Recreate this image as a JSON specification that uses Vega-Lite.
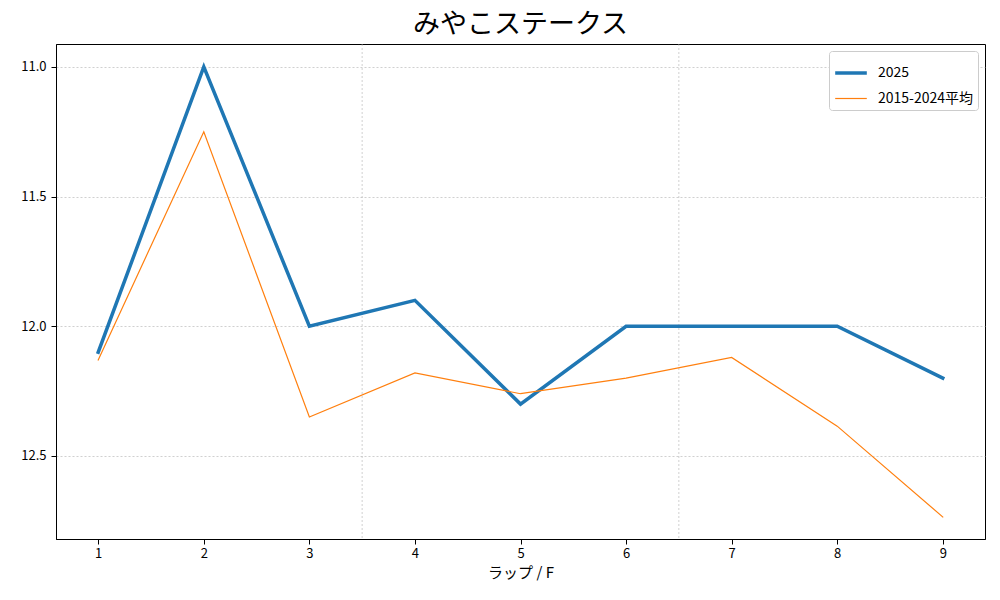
{
  "$schema": "https://vega.github.io/schema/vega-lite/v6.json",
  "autosize": "none",
  "width": 929,
  "height": 495,
  "padding": {"left": 56, "top": 44, "right": 15, "bottom": 61},
  "background": "white",
  "config": {
    "font": "Noto Sans CJK JP",
    "view": {"stroke": "black", "strokeWidth": 1},
    "axis": {
      "labelFont": "Noto Sans CJK JP",
      "titleFont": "Noto Sans CJK JP",
      "labelFontSize": 13,
      "titleFontSize": 15,
      "labelColor": "black",
      "titleColor": "black",
      "tickColor": "black",
      "domainColor": "black",
      "titleFontWeight": "normal"
    }
  },
  "title": {
    "text": "みやこステークス",
    "fontSize": 27,
    "fontWeight": "normal",
    "font": "Noto Sans CJK JP",
    "anchor": "middle",
    "offset": 5,
    "color": "black"
  },
  "layer": [
    {
      "data": {"values": [{"boundary": 3.5}, {"boundary": 6.5}]},
      "mark": {"type": "rule", "color": "#b0b0b0", "strokeWidth": 0.6, "strokeDash": [2, 2]},
      "encoding": {
        "x": {"field": "boundary", "type": "quantitative", "scale": {"domain": [0.6, 9.4], "nice": false, "zero": false}}
      }
    },
    {
      "data": {
        "values": [
          {"lap": 1, "time": 12.10, "series": "2025"},
          {"lap": 2, "time": 11.00, "series": "2025"},
          {"lap": 3, "time": 12.00, "series": "2025"},
          {"lap": 4, "time": 11.90, "series": "2025"},
          {"lap": 5, "time": 12.30, "series": "2025"},
          {"lap": 6, "time": 12.00, "series": "2025"},
          {"lap": 7, "time": 12.00, "series": "2025"},
          {"lap": 8, "time": 12.00, "series": "2025"},
          {"lap": 9, "time": 12.20, "series": "2025"},
          {"lap": 1, "time": 12.13, "series": "2015-2024平均"},
          {"lap": 2, "time": 11.25, "series": "2015-2024平均"},
          {"lap": 3, "time": 12.35, "series": "2015-2024平均"},
          {"lap": 4, "time": 12.18, "series": "2015-2024平均"},
          {"lap": 5, "time": 12.26, "series": "2015-2024平均"},
          {"lap": 6, "time": 12.20, "series": "2015-2024平均"},
          {"lap": 7, "time": 12.12, "series": "2015-2024平均"},
          {"lap": 8, "time": 12.385, "series": "2015-2024平均"},
          {"lap": 9, "time": 12.735, "series": "2015-2024平均"}
        ]
      },
      "mark": {"type": "line", "strokeCap": "square", "strokeJoin": "miter"},
      "encoding": {
        "x": {
          "field": "lap",
          "type": "quantitative",
          "title": "ラップ / F",
          "scale": {"domain": [0.6, 9.4], "nice": false, "zero": false},
          "axis": {"values": [1, 2, 3, 4, 5, 6, 7, 8, 9], "format": "d", "grid": false, "tickSize": 5, "labelPadding": 3, "titlePadding": 5}
        },
        "y": {
          "field": "time",
          "type": "quantitative",
          "title": null,
          "scale": {"domain": [10.912, 12.82], "reverse": true, "nice": false, "zero": false},
          "axis": {
            "values": [11.0, 11.5, 12.0, 12.5],
            "format": ".1f",
            "grid": true,
            "gridColor": "#b0b0b0",
            "gridDash": [2, 2],
            "gridWidth": 0.6,
            "tickSize": 5,
            "labelPadding": 5
          }
        },
        "color": {
          "field": "series",
          "type": "nominal",
          "sort": ["2025", "2015-2024平均"],
          "scale": {"domain": ["2025", "2015-2024平均"], "range": ["#1f77b4", "#ff7f0e"]},
          "legend": {
            "title": null,
            "orient": "top-right",
            "offset": 7,
            "symbolType": "stroke",
            "symbolSize": 1000,
            "labelFontSize": 14,
            "labelOffset": 9,
            "labelFont": "Noto Sans CJK JP",
            "labelColor": "black",
            "fillColor": "white",
            "strokeColor": "#cccccc",
            "padding": 4,
            "cornerRadius": 3,
            "rowPadding": 2
          }
        },
        "strokeWidth": {
          "field": "series",
          "type": "nominal",
          "sort": ["2025", "2015-2024平均"],
          "scale": {"domain": ["2025", "2015-2024平均"], "range": [3.5, 1.2]},
          "legend": {"title": null}
        }
      }
    }
  ]
}
